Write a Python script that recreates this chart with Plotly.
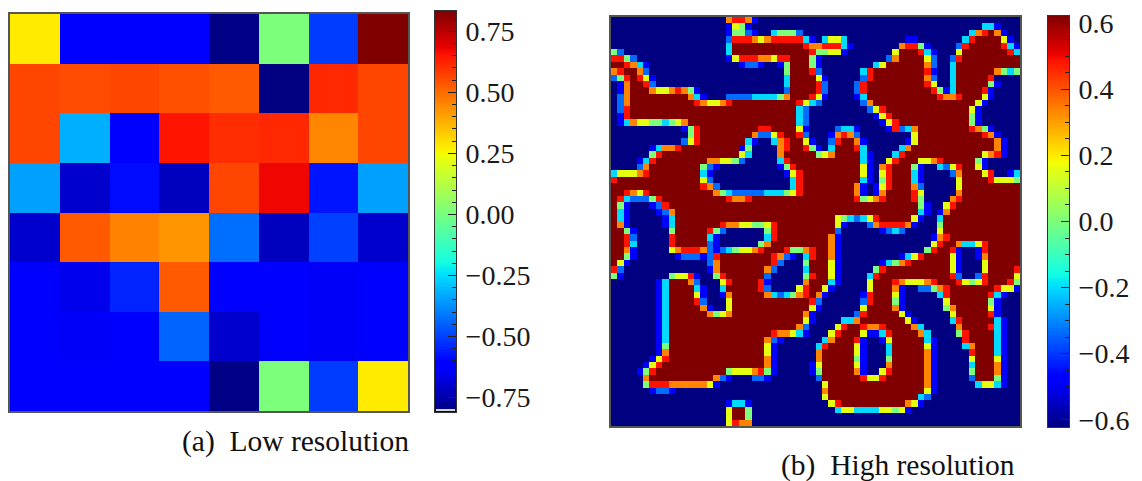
import re
import numpy as np
import plotly.graph_objects as go

# ---------- panel (a): 8x8 low resolution values, top row first ----------
low_res_values = [
    [0.276, -0.62, -0.62, -0.62, -0.799, 0.012, -0.507, 0.833],
    [0.564, 0.555, 0.564, 0.546, 0.529, -0.809, 0.616, 0.564],
    [0.564, -0.321, -0.62, 0.651, 0.607, 0.616, 0.450, 0.564],
    [-0.346, -0.699, -0.587, -0.72, 0.564, 0.674, -0.571, -0.346],
    [-0.699, 0.529, 0.459, 0.424, -0.426, -0.72, -0.499, -0.699],
    [-0.62, -0.656, -0.548, 0.529, -0.62, -0.62, -0.635, -0.62],
    [-0.62, -0.635, -0.62, -0.443, -0.699, -0.62, -0.635, -0.62],
    [-0.62, -0.62, -0.62, -0.62, -0.799, 0.012, -0.507, 0.276],
]
low_ticks = [-0.75, -0.5, -0.25, 0.0, 0.25, 0.5, 0.75]
low_tick_text = ["\u22120.75", "\u22120.50", "\u22120.25", "0.00", "0.25", "0.50", "0.75"]
low_range = [-0.809, 0.833]

# ---------- panel (b): 64x64 high resolution values, read by eye ----------
# value classes seen in the picture
high_levels = {".": -0.622, "b": -0.485, "a": -0.336, "c": -0.2, "g": 0.0,
               "y": 0.16, "o": 0.336, "r": 0.485, "#": 0.622}
# Each row: "<col><classes>" tokens; the last class of a token runs up to the next token.
high_rows = [
    "0. 18orro 22b 23.",
    "0. 18bygb 22. 58cc 60b 61.",
    "0. 18bggab 23. 25cggga 30. 56cor#ob 62.",
    "0. 18a 19rrroyor 30cb 32. 33cyyc 37. 46bb 48. 55cr 57# 61yb 63.",
    "0. 18c 19# 30r 31oo 33rrr 36cb 38. 45orrgb 50. 54ar 56# 61rcb",
    "0ga 2. 18c 19# 31rggyyb 37. 44y 45# 48rcb 51. 54y 55# 62rc",
    "0rrga 4. 18b 19yrrroo 25y 26rr 28# 31gb 33. 43ao 45# 49ya 51. 53ar 55#",
    "0##rocb 6. 20baab 24. 26b 27g 28# 31gb 33. 41cy 43# 49oa 51. 53c 54#",
    "0or##oa 6. 27g 28# 31ra 33. 39cr 41# 49rb 51. 53c 54# 60ogcg",
    "0agr#ryb 7. 27c 28# 31#yb 34. 39ar 41# 49oa 51. 53c 54# 59r 60.",
    "0. 1bo##ra 7. 27c 28# 32ra 34. 38ar 40# 49ry 51. 53c 54# 59gb 61.",
    "0. 1bo 3# 6oyyorogb 14. 27a 28# 32ra 34. 38ar 40# 50rgb 53c 54# 58rb 60.",
    "0. 1ao 3# 12oc 14b 15. 18aaaa 22cccc 26g 27o 28# 31ryb 34. 38bc 40# 51roor 55# 58yb 60.",
    "0. 1ao 3# 13royyor 19# 29ryca 33. 39ao 41# 57yb 59.",
    "0. 1ar 3# 29ca 31. 40ayr 43# 56yb 58.",
    "0. 1br 3# 29ca 31. 41byr 44# 56gb 58.",
    "0. 1b 2coyyggcgyo 12# 29ca 31. 42byr 45# 56gb 58.",
    "0. 11b 12gr 14# 23rr 25# 29yb 31. 35accb 39. 43b 44raco 48# 56rogb 60.",
    "0. 12gr 14# 22oaayr 27# 29ra 31. 34boroa 39. 47y 48# 58rob 61.",
    "0. 11ayr 14# 21cb 23. 25cor 28# 30yb 32. 34ar 36# 38ob 40. 46b 47y 48# 60ob 62.",
    "0. 6b 7coor 11# 20b 21g 22. 26or 28# 30rgb 33. 34c 35# 38rc 40. 45co 47# 60ob 62.",
    "0. 6gr 8# 20yc 22. 26o 27# 32gyo 35# 39cb 41. 44cr 46# 58yor 61b 62.",
    "0. 4b 5cr 7# 15ooyyga 21. 26cr 28# 39cb 41. 43yr 45# 48yyor 52# 57gb 59.",
    "0. 4ao 6# 14gab 17. 26bgr 29# 39yb 41. 42or 44# 47gb 49. 51cayr 55# 57yb 59.",
    "0cyyyor 6# 14cb 16. 27b 28yr 30# 39yb 41. 42yr 44# 47cb 49. 53ao 55# 58yr 60. 62bc",
    "0r 1# 14ya 16. 28cr 30# 39cb 41. 42gr 44# 47cb 49. 54y 55# 59ryyyg",
    "0# 14roa 17. 28cr 30# 38ob 40. 41byr 44# 47oa 49. 54y 55#",
    "0# 2r 3oyr 6# 16ogcaaaaacccgyr 30# 38ob 40. 41bo 43# 47ry 49. 54o 55#",
    "0# 1rcaaagr 8# 18roor 22# 38rgyor 43# 47rg 49. 53or 55#",
    "0# 1gb 3. 6ba 8r 9# 48gb 50. 52yr 54#",
    "0# 1cb 3. 7b 8ao 10# 48cb 50. 51bo 53#",
    "0# 1cb 3. 8b 9c 10# 35ygcacyr 42# 47yb 49. 51c 52#",
    "0# 1ob 3. 8b 9c 10# 17rooyyggyr 26# 35yb 37. 40aorrrrob 48. 51g 52#",
    "0# 2gb 4. 9g 10# 15rga 18. 24gr 26# 35a 36. 42baca 46. 51y 52#",
    "0# 2ra 4. 9r 10# 15cb 17. 24cr 26# 34ob 36. 50b 51or 53#",
    "0# 2rc 4. 9r 10# 15ab 17. 23go 25# 34ob 36. 50yr 52# 54occyr 59#",
    "0# 2ob 4. 9yorrroabacgyyor 24# 27rggor 32# 34ob 36. 49gr 51# 53rb 55. 57br 59#",
    "0# 2gb 4. 10baaab 15ar 17# 25roab 29. 30cr 32# 34ob 36. 45b 46cyr 49# 53yb 55. 57bo 59#",
    "0# 1yb 3. 15ao 17# 25ra 27. 30g 31# 34yb 36. 42b 43cgor 47# 53yb 55. 58y 59#",
    "0ra 2. 15b 16o 17# 24oa 26. 30c 31# 34yb 36. 41gr 43# 53yb 55. 58y 59# 63r",
    "0gb 2. 9gyyrb 14. 16gr 18# 24a 25. 30gr 32# 34yb 36. 40cr 42# 53ra 55. 57ar 59# 63y",
    "0. 7b 8c 9# 12oa 14. 17yr 19# 23rb 25. 30o 31# 34cb 36. 40y 41# 44royyyor 51# 54rygyr 59# 62rg",
    "0. 7b 8c 9# 13cb 15. 17c 18# 23ra 25. 29yr 31# 33yb 35. 40y 41# 44ob 46. 48aagor 53# 60ryyb",
    "0. 7b 8c 9# 13yb 15. 17bo 19# 24ocacgor 31# 32ob 34. 39b 40r 41# 44yb 46. 51cr 53# 59rcb 62.",
    "0. 7b 8c 9# 13ra 15. 18y 19# 31ra 33. 39ar 41# 44gb 46. 52y 53# 59gb 61.",
    "0. 7b 8c 9# 14ob 16. 18y 19# 31yb 33. 39y 40# 44ob 46. 52go 54# 59yb 61.",
    "0. 7b 8c 9# 15ogyo 19# 30ob 32. 38ar 40# 45yb 47. 53y 54# 59rb 61.",
    "0. 7b 8c 9# 30yb 32. 36cco 39# 46yb 48. 53cr 55# 60cb 62.",
    "0. 7b 8c 9# 29oa 31. 35yr 37# 39roor 43# 47oc 49. 54o 55# 59rcb 62.",
    "0. 7b 8c 9# 25rooycb 31. 34yr 36# 39ybbcr 44# 48oc 50. 54gr 56# 60cb 62.",
    "0. 7b 8c 9# 24oab 27. 33co 35# 38rb 40. 42by 44# 49cb 51. 55r 56# 60cb 62.",
    "0. 7b 8g 9# 24yb 26. 32cr 34# 38yb 40. 43c 44# 49yb 51. 55co 57# 60cb 62.",
    "0. 7bo 9# 24yb 26. 32o 33# 38yb 40. 43c 44# 49ob 51. 56r 57# 60cb 62.",
    "0. 6b 7yr 9# 24ob 26. 32o 33# 38gb 40. 43g 44# 49ob 51. 56y 57# 60yb 62.",
    "0. 5b 6yr 8# 24ob 26. 31b 32y 33# 38yb 40. 43o 44# 49ob 51. 56c 57# 60ob 62.",
    "0. 4b 5gr 7# 18gyyyorg 25b 26. 31b 32g 33# 38ob 40. 42yr 44# 49ob 51. 56g 57# 60ob 62.",
    "0. 5o 6# 16oab 19. 22aab 25. 32a 33# 39ryyr 43# 49ob 51. 56a 57# 60gb 62.",
    "0. 5grrrooooooyb 17. 33y 34# 49ob 51. 57cyycb 62.",
    "0. 6baab 10. 33o 34# 49yb 51.",
    "0. 33y 34# 48ca 50.",
    "0. 18b 19cc 21b 22. 34yr 36# 46oyb 49.",
    "0. 18y 19## 21g 22. 35cyyccccyygyb 47.",
    "0. 18y 19## 21g 22.",
    "0. 18yroo 22.",
]
high_ticks = [-0.6, -0.4, -0.2, 0.0, 0.2, 0.4, 0.6]
high_tick_text = ["\u22120.6", "\u22120.4", "\u22120.2", "0.0", "0.2", "0.4", "0.6"]
high_range = [-0.622, 0.622]

caption_a = "(a)  Low resolution"
caption_b = "(b)  High resolution"


def decode(row):
    cells = [None] * 64
    tokens = [re.match(r"(\d+)(\S+)", t).groups() for t in row.split()]
    for i, (start, chars) in enumerate(tokens):
        start = int(start)
        end = int(tokens[i + 1][0]) if i + 1 < len(tokens) else 64
        for k in range(start, end):
            cells[k] = chars[min(k - start, len(chars) - 1)]
    return [high_levels[c] for c in cells]


high_res_values = [decode(r) for r in high_rows]

# matplotlib's jet colormap
stops = sorted({0, .11, .125, .34, .35, .375, .64, .65, .66, .89, .91, 1})
jet = []
for t in stops:
    r = np.interp(t, [0, .35, .66, .89, 1], [0, 0, 1, 1, .5])
    g = np.interp(t, [0, .125, .375, .64, .91, 1], [0, 0, 1, 1, 0, 0])
    b = np.interp(t, [0, .11, .34, .65, 1], [.5, 1, 1, 0, 0])
    jet.append([t, f"rgb({r*255:.0f},{g*255:.0f},{b*255:.0f})"])

W, H = 1142, 481
px = lambda x: x / W
py = lambda y: 1 - y / H
FRAME = "#555555"
BAR = "#333333"
SERIF = "Liberation Serif"

fig = go.Figure()

fig.add_trace(go.Heatmap(z=low_res_values, colorscale=jet, zmin=low_range[0], zmax=low_range[1],
                         showscale=False, xaxis="x", yaxis="y", zsmooth=False, hoverinfo="skip"))
fig.add_trace(go.Heatmap(z=high_res_values, colorscale=jet, zmin=high_range[0], zmax=high_range[1],
                         showscale=False, xaxis="x2", yaxis="y2", zsmooth=False, hoverinfo="skip"))


def scale_strip(rng, xa, ya):
    """The colour bar: the colour scale drawn as one column on its own value axis."""
    levels = np.linspace(rng[0], rng[1], 256)
    return go.Heatmap(z=levels.reshape(-1, 1), x=[0], y=levels, colorscale=jet,
                      zmin=rng[0], zmax=rng[1], showscale=False, xaxis=xa, yaxis=ya,
                      hoverinfo="skip")


fig.add_trace(scale_strip(low_range, "x3", "y3"))
fig.add_trace(scale_strip(high_range, "x4", "y4"))


def frame_x(x0, x1, n, anchor):
    return dict(domain=[px(x0), px(x1)], range=[-.5, n - .5], showticklabels=False, ticks="",
                showgrid=False, zeroline=False, showline=True, mirror=True, automargin=False,
                linecolor=FRAME, linewidth=1.5, anchor=anchor)


def frame_y(y0, y1, n, anchor):
    return dict(domain=[py(y1), py(y0)], range=[n - .5, -.5], showticklabels=False, ticks="",
                showgrid=False, zeroline=False, showline=True, mirror=True, automargin=False,
                linecolor=FRAME, linewidth=1.5, anchor=anchor)


def tick_x(x0, x1, anchor):
    return dict(domain=[px(x0), px(x1)], range=[-.5, .5], showticklabels=False, ticks="",
                showgrid=False, zeroline=False, showline=True, mirror=True, linecolor=BAR,
                linewidth=1, anchor=anchor, automargin=False)


def tick_y(y0, y1, rng, vals, text, anchor):
    return dict(domain=[py(y1), py(y0)], range=rng, side="right", anchor=anchor, automargin=False,
                tickmode="array", tickvals=vals, ticktext=text, ticks="inside", ticklen=8,
                tickwidth=1, tickcolor="#222222", showgrid=False, zeroline=False, showline=True,
                mirror=True, linecolor=BAR, linewidth=1,
                ticklabelstandoff=3, tickfont=dict(family=SERIF, size=28, color="#1a1a1a"),
                minor=dict(dtick=0.05, tick0=0, ticks="inside", ticklen=4, tickwidth=1,
                           tickcolor="#222222", showgrid=False))


fig.update_layout(
    width=W, height=H, margin=dict(l=0, r=0, t=0, b=0, autoexpand=False), paper_bgcolor="white",
    plot_bgcolor="white", showlegend=False, font=dict(family=SERIF),
    xaxis=frame_x(10, 408, 8, "y"), yaxis=frame_y(14, 411, 8, "x"),
    xaxis2=frame_x(611, 1020, 64, "y2"), yaxis2=frame_y(17, 426, 64, "x2"),
    xaxis3=tick_x(435, 456, "y3"),
    yaxis3=tick_y(11, 412, low_range, low_ticks, low_tick_text, "x3"),
    xaxis4=tick_x(1048, 1069, "y4"),
    yaxis4=tick_y(16, 427, high_range, high_ticks, high_tick_text, "x4"),
    annotations=[
        dict(text=caption_a, x=px(296), y=py(441), xref="paper", yref="paper", showarrow=False,
             xanchor="center", yanchor="middle", font=dict(family=SERIF, size=29.5, color="#111111")),
        dict(text=caption_b, x=px(897.5), y=py(465), xref="paper", yref="paper", showarrow=False,
             xanchor="center", yanchor="middle", font=dict(family=SERIF, size=29.5, color="#111111")),
    ],
    shapes=[dict(type="rect", xref="paper", yref="paper", x0=px(436), x1=px(455), y0=py(411),
                 y1=py(409), line_width=0, fillcolor="#d4d4e0")],
)

fig.write_html("out.html", config={"displayModeBar": False},
               post_script="document.body.style.margin='0';document.body.style.overflow='hidden';")
